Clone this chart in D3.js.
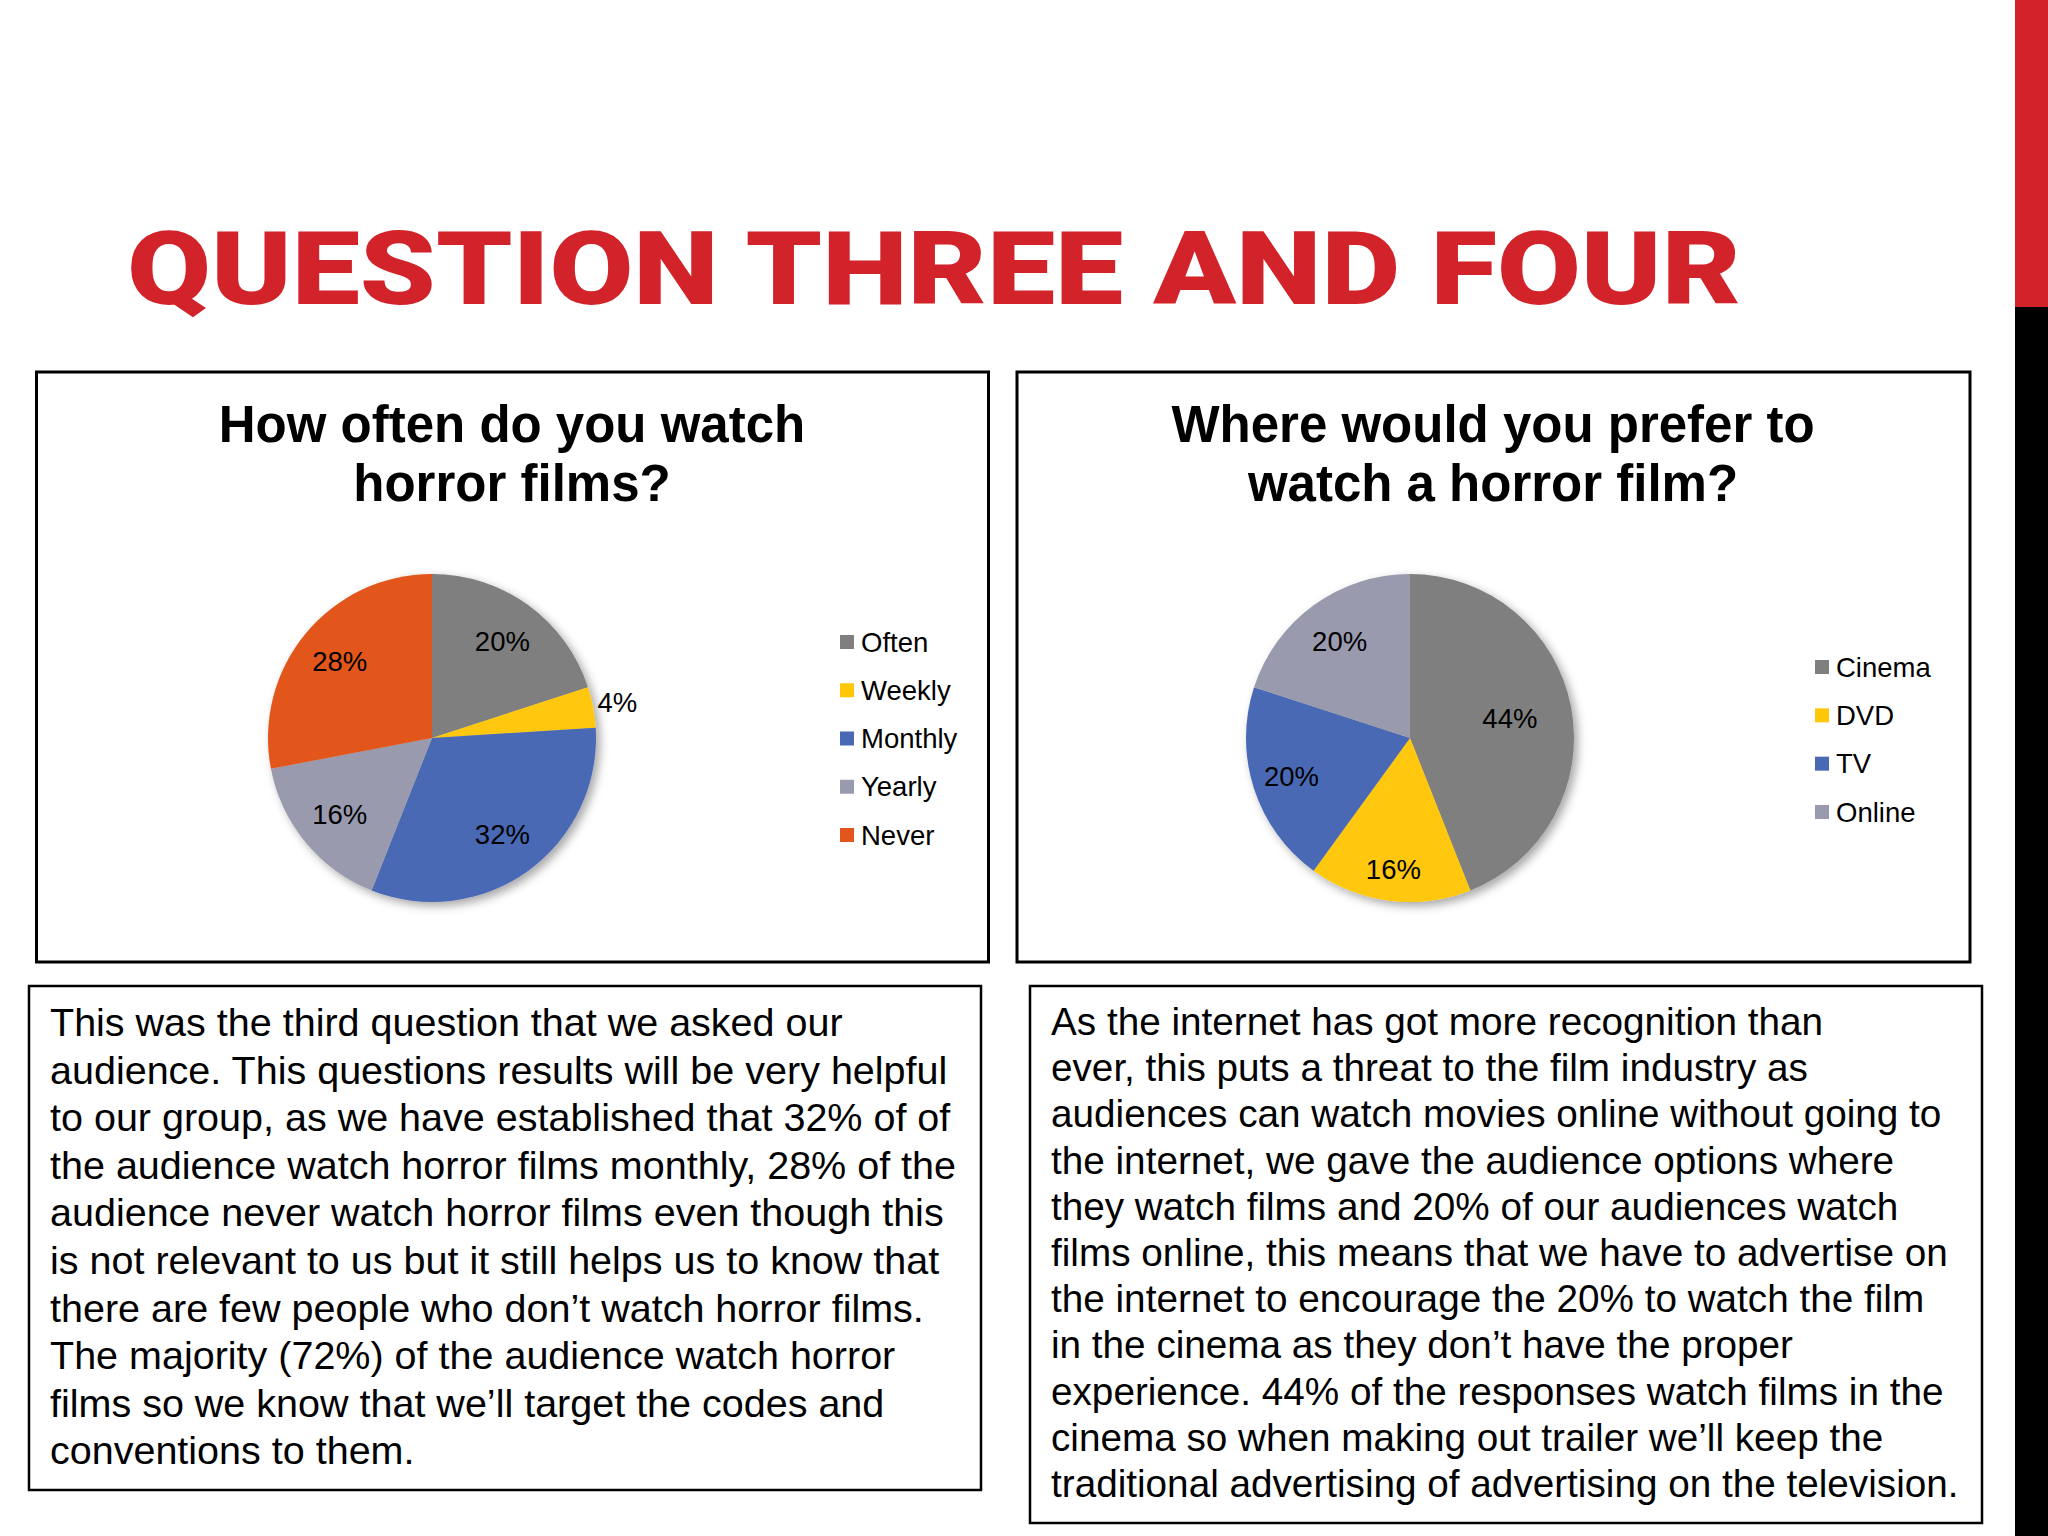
<!DOCTYPE html>
<html>
<head>
<meta charset="utf-8">
<script src="https://cdn.jsdelivr.net/npm/d3@7"></script>
<style>
  body { margin: 0; background: #fff; }
  svg { display: block; }
  .pct { font-family: "Liberation Sans", Arial, sans-serif; font-size: 27.5px; fill: #000; }
  .legend text { font-family: "Liberation Sans", Arial, sans-serif; font-size: 27.5px; fill: #000; }
  .ctitle { font-family: "Liberation Sans", Arial, sans-serif; font-weight: bold; font-size: 51px; fill: #000; }
  .para { font-family: "Liberation Sans", Arial, sans-serif; fill: #000; }
</style>
</head>
<body>
<script>
// Slide heading
var slideTitle = "QUESTION THREE AND FOUR";

// Question three: how often
var freqTitle = ["How often do you watch", "horror films?"];
var freqCategories = ["Often", "Weekly", "Monthly", "Yearly", "Never"];
var freqValues = [20, 4, 32, 16, 28];

// Question four: where
var placeTitle = ["Where would you prefer to", "watch a horror film?"];
var placeCategories = ["Cinema", "DVD", "TV", "Online"];
var placeValues = [44, 16, 20, 20];

// Paragraph lines
var leftLines = [
  "This was the third question that we asked our",
  "audience. This questions results will be very helpful",
  "to our group, as we have established that 32% of of",
  "the audience watch horror films monthly, 28% of the",
  "audience never watch horror films even though this",
  "is not relevant to us but it still helps us to know that",
  "there are few people who don\u2019t watch horror films.",
  "The majority (72%) of the audience watch horror",
  "films so we know that we\u2019ll target the codes and",
  "conventions to them."
];
var rightLines = [
  "As the internet has got more recognition than",
  "ever, this puts a threat to the film industry as",
  "audiences can watch movies online without going to",
  "the internet, we gave the audience options where",
  "they watch films and 20% of our audiences watch",
  "films online, this means that we have to advertise on",
  "the internet to encourage the 20% to watch the film",
  "in the cinema as they don\u2019t have the proper",
  "experience. 44% of the responses watch films in the",
  "cinema so when making out trailer we\u2019ll keep the",
  "traditional advertising of advertising on the television."
];

// Colours per category
var colors = {
  "Often": "#7f7f7f", "Weekly": "#ffc708", "Monthly": "#4a69b4",
  "Yearly": "#9a9aae", "Never": "#e2561e",
  "Cinema": "#7f7f7f", "DVD": "#ffc708", "TV": "#4a69b4", "Online": "#9a9aae"
};

var width = 2048;
var height = 1536;

var svg = d3.select("body")
            .append("svg")
            .attr("width", width)
            .attr("height", height);

svg.append("rect")
   .attr("width", width)
   .attr("height", height)
   .attr("fill", "#fff");

// Drop shadow for the pies
var defs = svg.append("defs");
var filter = defs.append("filter")
                 .attr("id", "shadow")
                 .attr("x", "-20%").attr("y", "-20%")
                 .attr("width", "140%").attr("height", "140%");
filter.append("feDropShadow")
      .attr("dx", 4).attr("dy", 4)
      .attr("stdDeviation", 5)
      .attr("flood-color", "#000")
      .attr("flood-opacity", 0.35);

// Right edge bar
svg.append("rect").attr("x", 2015).attr("y", 0).attr("width", 33).attr("height", 307).attr("fill", "#d2232a");
svg.append("rect").attr("x", 2015).attr("y", 307).attr("width", 33).attr("height", height - 307).attr("fill", "#000");

// Heading
svg.append("text")
   .text(slideTitle)
   .attr("x", 127)
   .attr("y", 304)
   .attr("textLength", 1614)
   .attr("lengthAdjust", "spacingAndGlyphs")
   .style("font-family", "Roboto, 'Liberation Sans', Arial, sans-serif")
   .style("font-weight", 900)
   .style("font-size", "102px")
   .style("fill", "#d2232a");

function createPie(opts) {
  var g = svg.append("g");

  // Frame
  g.append("rect")
   .attr("x", opts.box[0]).attr("y", opts.box[1])
   .attr("width", opts.box[2]).attr("height", opts.box[3])
   .attr("fill", "#fff")
   .attr("stroke", "#000")
   .attr("stroke-width", 3);

  // Title
  g.selectAll(".ctitle")
   .data(opts.title)
   .enter()
   .append("text")
   .attr("class", "ctitle")
   .attr("text-anchor", "middle")
   .attr("x", opts.titleX)
   .attr("y", function(d, i) { return 442 + i * 59; })
   .text(function(d) { return d; });

  var pie = d3.pie().sort(null).value(function(d) { return d; });
  var arcs = pie(opts.values);
  var arc = d3.arc().innerRadius(0).outerRadius(opts.r);

  var pieG = g.append("g")
              .attr("transform", "translate(" + opts.cx + "," + opts.cy + ")");

  var slices = pieG.append("g").attr("filter", "url(#shadow)");
  slices.selectAll("path")
        .data(arcs)
        .enter()
        .append("path")
        .attr("d", arc)
        .attr("fill", function(d, i) { return colors[opts.categories[i]]; });

  // Percent labels
  pieG.selectAll(".pct")
      .data(arcs)
      .enter()
      .append("text")
      .attr("class", "pct")
      .attr("text-anchor", "middle")
      .attr("dominant-baseline", "central")
      .attr("transform", function(d, i) {
        var f = opts.labelFactor[opts.categories[i]] ||
                (d.data < 5 ? 1.15 : 0.73);
        var a = d3.arc().innerRadius(opts.r * f).outerRadius(opts.r * f);
        return "translate(" + a.centroid(d) + ")";
      })
      .text(function(d) { return d.data + "%"; });

  // Legend
  var y = d3.scalePoint()
            .domain(opts.categories)
            .range(opts.legendRange);
  var legend = g.append("g").attr("class", "legend");
  var items = legend.selectAll("g")
                    .data(opts.categories)
                    .enter()
                    .append("g")
                    .attr("transform", function(d) { return "translate(" + opts.legendX + "," + y(d) + ")"; });
  items.append("rect")
       .attr("x", 0).attr("y", -7)
       .attr("width", 14).attr("height", 14)
       .attr("fill", function(d) { return colors[d]; });
  items.append("text")
       .attr("x", 21)
       .attr("dominant-baseline", "central")
       .text(function(d) { return d; });
}

createPie({
  box: [36.5, 372, 952, 590],
  title: freqTitle, titleX: 512,
  categories: freqCategories, values: freqValues,
  cx: 432, cy: 738, r: 164,
  labelFactor: {},
  legendX: 840, legendRange: [642, 835]
});

createPie({
  box: [1017, 372, 953, 590],
  title: placeTitle, titleX: 1493,
  categories: placeCategories, values: placeValues,
  cx: 1410, cy: 738, r: 164,
  labelFactor: { "Cinema": 0.62, "DVD": 0.81, "TV": 0.76 },
  legendX: 1815, legendRange: [667, 812]
});

function createParagraph(box, lines, x, y0, step, size) {
  svg.append("rect")
     .attr("x", box[0]).attr("y", box[1])
     .attr("width", box[2]).attr("height", box[3])
     .attr("fill", "#fff")
     .attr("stroke", "#000")
     .attr("stroke-width", 2.5);
  svg.append("g")
     .selectAll("text")
     .data(lines)
     .enter()
     .append("text")
     .attr("class", "para")
     .attr("x", x)
     .attr("y", function(d, i) { return y0 + i * step; })
     .style("font-size", size + "px")
     .text(function(d) { return d; });
}

createParagraph([29, 986, 952, 504], leftLines, 50, 1036, 47.6, 39.5);
createParagraph([1030, 986, 952, 537], rightLines, 1051, 1035, 46.2, 38.7);
</script>
</body>
</html>
